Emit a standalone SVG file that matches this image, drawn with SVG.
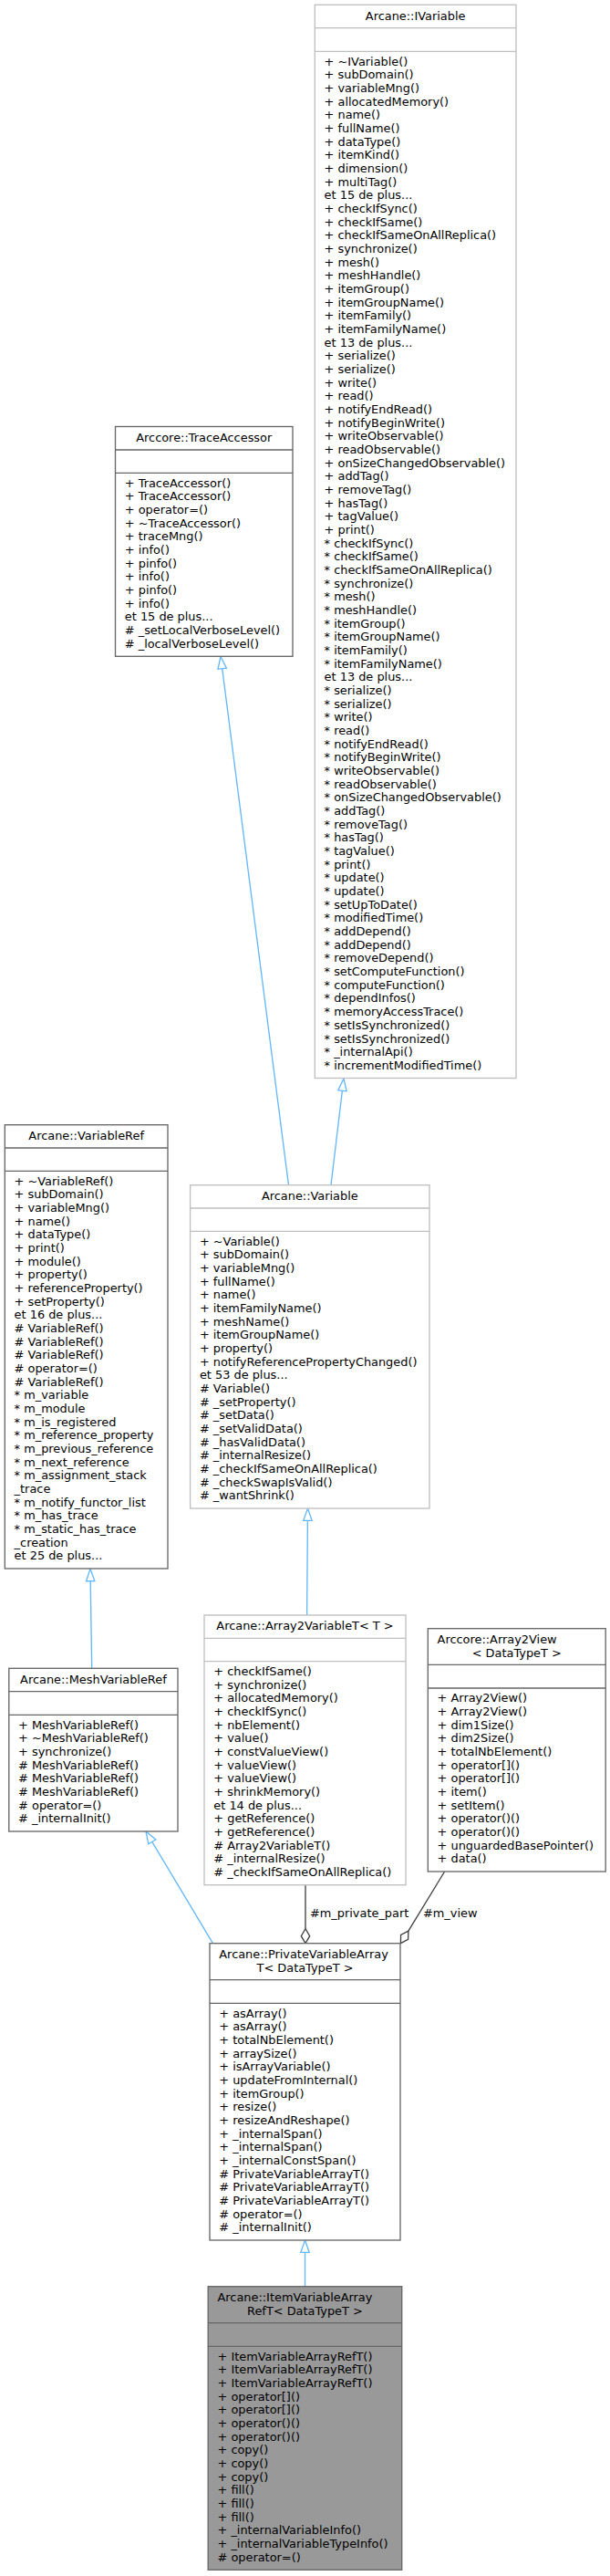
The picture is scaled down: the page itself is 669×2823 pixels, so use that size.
<svg xmlns="http://www.w3.org/2000/svg" width="669" height="2823" viewBox="0 0 669 2823">
<style>
.lt{fill:#ffffff;stroke:#bfbfbf;stroke-width:1.33}
.dk{fill:#ffffff;stroke:#666666;stroke-width:1.33}
.cur{fill:#999999;stroke:#666666;stroke-width:1.33}
.sl{stroke:#bfbfbf;stroke-width:1.33}
.sd{stroke:#666666;stroke-width:1.33}
.t{font-family:"DejaVu Sans","Liberation Sans",sans-serif;font-size:12.9px;fill:#000000}
.c{text-anchor:middle}
.inh{stroke:#63b8ff;fill:none;stroke-width:1.33}
.inhh{stroke:#63b8ff;fill:#ffffff;stroke-width:1.33}
.col{stroke:#404040;fill:none;stroke-width:1.33}
.colh{stroke:#404040;fill:#ffffff;stroke-width:1.33}
</style>
<rect x="0" y="0" width="669" height="2823" fill="#ffffff"/>

<g id="connectors">
  <!-- Variable -> IVariable -->
  <line class="inh" x1="363" y1="1298.7" x2="375.4" y2="1195.2"/>
  <polygon class="inhh" points="377,1182 380.1,1195.8 370.8,1194.6"/>
  <!-- Variable -> TraceAccessor -->
  <line class="inh" x1="316.5" y1="1298.7" x2="243.7" y2="732.7"/>
  <polygon class="inhh" points="242,719.5 248.4,732.1 239,733.3"/>
  <!-- MeshVariableRef -> VariableRef -->
  <line class="inh" x1="100.7" y1="1828.3" x2="99.2" y2="1732.6"/>
  <polygon class="inhh" points="99,1719.3 103.9,1732.5 94.5,1732.7"/>
  <!-- Array2VariableT -> Variable -->
  <line class="inh" x1="336.6" y1="1770" x2="337.4" y2="1666.3"/>
  <polygon class="inhh" points="337.5,1653 342.1,1666.3 332.7,1666.3"/>
  <!-- PrivateVariableArrayT -> MeshVariableRef -->
  <line class="inh" x1="233.4" y1="2129.7" x2="166.8" y2="2018.4"/>
  <polygon class="inhh" points="160,2007 170.9,2016 162.8,2020.8"/>
  <!-- ItemVariableArrayRefT -> PrivateVariableArrayT -->
  <line class="inh" x1="334.5" y1="2505.7" x2="334.5" y2="2468.3"/>
  <polygon class="inhh" points="334.5,2455 339.2,2468.3 329.8,2468.3"/>
  <!-- m_private_part -->
  <line class="col" x1="335" y1="2065.7" x2="335" y2="2113.7"/>
  <polygon class="colh" points="335,2129.7 339.7,2121.7 335,2113.7 330.3,2121.7"/>
  <text class="t" x="340" y="2100.6">#m_private_part</text>
  <!-- m_view -->
  <line class="col" x1="487.6" y1="2051" x2="447.9" y2="2116.1"/>
  <polygon class="colh" points="439.4,2129.7 447.6,2125.4 447.9,2116.1 439.6,2120.4"/>
  <text class="t" x="464" y="2100.6">#m_view</text>
</g>

<g id="IVariable">
  <rect class="lt" x="345.3" y="5.3" width="220.7" height="1176.2"/>
  <line class="sl" x1="345.3" y1="30.7" x2="566" y2="30.7"/>
  <line class="sl" x1="345.3" y1="56.3" x2="566" y2="56.3"/>
  <text class="t c" x="455.65" y="21.6">Arcane::IVariable</text>
  <text class="t" x="355.6" y="71.6"><tspan x="355.6">+ ~IVariable()</tspan><tspan x="355.6" dy="14.67">+ subDomain()</tspan><tspan x="355.6" dy="14.67">+ variableMng()</tspan><tspan x="355.6" dy="14.67">+ allocatedMemory()</tspan><tspan x="355.6" dy="14.67">+ name()</tspan><tspan x="355.6" dy="14.67">+ fullName()</tspan><tspan x="355.6" dy="14.67">+ dataType()</tspan><tspan x="355.6" dy="14.67">+ itemKind()</tspan><tspan x="355.6" dy="14.67">+ dimension()</tspan><tspan x="355.6" dy="14.67">+ multiTag()</tspan><tspan x="355.6" dy="14.67">et 15 de plus...</tspan><tspan x="355.6" dy="14.67">+ checkIfSync()</tspan><tspan x="355.6" dy="14.67">+ checkIfSame()</tspan><tspan x="355.6" dy="14.67">+ checkIfSameOnAllReplica()</tspan><tspan x="355.6" dy="14.67">+ synchronize()</tspan><tspan x="355.6" dy="14.67">+ mesh()</tspan><tspan x="355.6" dy="14.67">+ meshHandle()</tspan><tspan x="355.6" dy="14.67">+ itemGroup()</tspan><tspan x="355.6" dy="14.67">+ itemGroupName()</tspan><tspan x="355.6" dy="14.67">+ itemFamily()</tspan><tspan x="355.6" dy="14.67">+ itemFamilyName()</tspan><tspan x="355.6" dy="14.67">et 13 de plus...</tspan><tspan x="355.6" dy="14.67">+ serialize()</tspan><tspan x="355.6" dy="14.67">+ serialize()</tspan><tspan x="355.6" dy="14.67">+ write()</tspan><tspan x="355.6" dy="14.67">+ read()</tspan><tspan x="355.6" dy="14.67">+ notifyEndRead()</tspan><tspan x="355.6" dy="14.67">+ notifyBeginWrite()</tspan><tspan x="355.6" dy="14.67">+ writeObservable()</tspan><tspan x="355.6" dy="14.67">+ readObservable()</tspan><tspan x="355.6" dy="14.67">+ onSizeChangedObservable()</tspan><tspan x="355.6" dy="14.67">+ addTag()</tspan><tspan x="355.6" dy="14.67">+ removeTag()</tspan><tspan x="355.6" dy="14.67">+ hasTag()</tspan><tspan x="355.6" dy="14.67">+ tagValue()</tspan><tspan x="355.6" dy="14.67">+ print()</tspan><tspan x="355.6" dy="14.67">* checkIfSync()</tspan><tspan x="355.6" dy="14.67">* checkIfSame()</tspan><tspan x="355.6" dy="14.67">* checkIfSameOnAllReplica()</tspan><tspan x="355.6" dy="14.67">* synchronize()</tspan><tspan x="355.6" dy="14.67">* mesh()</tspan><tspan x="355.6" dy="14.67">* meshHandle()</tspan><tspan x="355.6" dy="14.67">* itemGroup()</tspan><tspan x="355.6" dy="14.67">* itemGroupName()</tspan><tspan x="355.6" dy="14.67">* itemFamily()</tspan><tspan x="355.6" dy="14.67">* itemFamilyName()</tspan><tspan x="355.6" dy="14.67">et 13 de plus...</tspan><tspan x="355.6" dy="14.67">* serialize()</tspan><tspan x="355.6" dy="14.67">* serialize()</tspan><tspan x="355.6" dy="14.67">* write()</tspan><tspan x="355.6" dy="14.67">* read()</tspan><tspan x="355.6" dy="14.67">* notifyEndRead()</tspan><tspan x="355.6" dy="14.67">* notifyBeginWrite()</tspan><tspan x="355.6" dy="14.67">* writeObservable()</tspan><tspan x="355.6" dy="14.67">* readObservable()</tspan><tspan x="355.6" dy="14.67">* onSizeChangedObservable()</tspan><tspan x="355.6" dy="14.67">* addTag()</tspan><tspan x="355.6" dy="14.67">* removeTag()</tspan><tspan x="355.6" dy="14.67">* hasTag()</tspan><tspan x="355.6" dy="14.67">* tagValue()</tspan><tspan x="355.6" dy="14.67">* print()</tspan><tspan x="355.6" dy="14.67">* update()</tspan><tspan x="355.6" dy="14.67">* update()</tspan><tspan x="355.6" dy="14.67">* setUpToDate()</tspan><tspan x="355.6" dy="14.67">* modifiedTime()</tspan><tspan x="355.6" dy="14.67">* addDepend()</tspan><tspan x="355.6" dy="14.67">* addDepend()</tspan><tspan x="355.6" dy="14.67">* removeDepend()</tspan><tspan x="355.6" dy="14.67">* setComputeFunction()</tspan><tspan x="355.6" dy="14.67">* computeFunction()</tspan><tspan x="355.6" dy="14.67">* dependInfos()</tspan><tspan x="355.6" dy="14.67">* memoryAccessTrace()</tspan><tspan x="355.6" dy="14.67">* setIsSynchronized()</tspan><tspan x="355.6" dy="14.67">* setIsSynchronized()</tspan><tspan x="355.6" dy="14.67">* _internalApi()</tspan><tspan x="355.6" dy="14.67">* incrementModifiedTime()</tspan></text>
</g>

<g id="TraceAccessor">
  <rect class="dk" x="126.5" y="467.5" width="194.5" height="251.8"/>
  <line class="sd" x1="126.5" y1="493" x2="321" y2="493"/>
  <line class="sd" x1="126.5" y1="518.3" x2="321" y2="518.3"/>
  <text class="t c" x="223.75" y="483.8">Arccore::TraceAccessor</text>
  <text class="t" x="136.8" y="533.6"><tspan x="136.8">+ TraceAccessor()</tspan><tspan x="136.8" dy="14.67">+ TraceAccessor()</tspan><tspan x="136.8" dy="14.67">+ operator=()</tspan><tspan x="136.8" dy="14.67">+ ~TraceAccessor()</tspan><tspan x="136.8" dy="14.67">+ traceMng()</tspan><tspan x="136.8" dy="14.67">+ info()</tspan><tspan x="136.8" dy="14.67">+ pinfo()</tspan><tspan x="136.8" dy="14.67">+ info()</tspan><tspan x="136.8" dy="14.67">+ pinfo()</tspan><tspan x="136.8" dy="14.67">+ info()</tspan><tspan x="136.8" dy="14.67">et 15 de plus...</tspan><tspan x="136.8" dy="14.67"># _setLocalVerboseLevel()</tspan><tspan x="136.8" dy="14.67"># _localVerboseLevel()</tspan></text>
</g>

<g id="VariableRef">
  <rect class="dk" x="5.3" y="1232.7" width="178.7" height="486.3"/>
  <line class="sd" x1="5.3" y1="1258" x2="184" y2="1258"/>
  <line class="sd" x1="5.3" y1="1283.3" x2="184" y2="1283.3"/>
  <text class="t c" x="94.65" y="1249">Arcane::VariableRef</text>
  <text class="t" x="15.6" y="1298.6"><tspan x="15.6">+ ~VariableRef()</tspan><tspan x="15.6" dy="14.67">+ subDomain()</tspan><tspan x="15.6" dy="14.67">+ variableMng()</tspan><tspan x="15.6" dy="14.67">+ name()</tspan><tspan x="15.6" dy="14.67">+ dataType()</tspan><tspan x="15.6" dy="14.67">+ print()</tspan><tspan x="15.6" dy="14.67">+ module()</tspan><tspan x="15.6" dy="14.67">+ property()</tspan><tspan x="15.6" dy="14.67">+ referenceProperty()</tspan><tspan x="15.6" dy="14.67">+ setProperty()</tspan><tspan x="15.6" dy="14.67">et 16 de plus...</tspan><tspan x="15.6" dy="14.67"># VariableRef()</tspan><tspan x="15.6" dy="14.67"># VariableRef()</tspan><tspan x="15.6" dy="14.67"># VariableRef()</tspan><tspan x="15.6" dy="14.67"># operator=()</tspan><tspan x="15.6" dy="14.67"># VariableRef()</tspan><tspan x="15.6" dy="14.67">* m_variable</tspan><tspan x="15.6" dy="14.67">* m_module</tspan><tspan x="15.6" dy="14.67">* m_is_registered</tspan><tspan x="15.6" dy="14.67">* m_reference_property</tspan><tspan x="15.6" dy="14.67">* m_previous_reference</tspan><tspan x="15.6" dy="14.67">* m_next_reference</tspan><tspan x="15.6" dy="14.67">* m_assignment_stack</tspan><tspan x="15.6" dy="14.67">_trace</tspan><tspan x="15.6" dy="14.67">* m_notify_functor_list</tspan><tspan x="15.6" dy="14.67">* m_has_trace</tspan><tspan x="15.6" dy="14.67">* m_static_has_trace</tspan><tspan x="15.6" dy="14.67">_creation</tspan><tspan x="15.6" dy="14.67">et 25 de plus...</tspan></text>
</g>

<g id="Variable">
  <rect class="lt" x="208.6" y="1298.7" width="262.4" height="354.3"/>
  <line class="sl" x1="208.6" y1="1324" x2="471" y2="1324"/>
  <line class="sl" x1="208.6" y1="1349.3" x2="471" y2="1349.3"/>
  <text class="t c" x="339.8" y="1315">Arcane::Variable</text>
  <text class="t" x="218.9" y="1364.6"><tspan x="218.9">+ ~Variable()</tspan><tspan x="218.9" dy="14.67">+ subDomain()</tspan><tspan x="218.9" dy="14.67">+ variableMng()</tspan><tspan x="218.9" dy="14.67">+ fullName()</tspan><tspan x="218.9" dy="14.67">+ name()</tspan><tspan x="218.9" dy="14.67">+ itemFamilyName()</tspan><tspan x="218.9" dy="14.67">+ meshName()</tspan><tspan x="218.9" dy="14.67">+ itemGroupName()</tspan><tspan x="218.9" dy="14.67">+ property()</tspan><tspan x="218.9" dy="14.67">+ notifyReferencePropertyChanged()</tspan><tspan x="218.9" dy="14.67">et 53 de plus...</tspan><tspan x="218.9" dy="14.67"># Variable()</tspan><tspan x="218.9" dy="14.67"># _setProperty()</tspan><tspan x="218.9" dy="14.67"># _setData()</tspan><tspan x="218.9" dy="14.67"># _setValidData()</tspan><tspan x="218.9" dy="14.67"># _hasValidData()</tspan><tspan x="218.9" dy="14.67"># _internalResize()</tspan><tspan x="218.9" dy="14.67"># _checkIfSameOnAllReplica()</tspan><tspan x="218.9" dy="14.67"># _checkSwapIsValid()</tspan><tspan x="218.9" dy="14.67"># _wantShrink()</tspan></text>
</g>

<g id="Array2VariableT">
  <rect class="lt" x="224" y="1770" width="221" height="295.7"/>
  <line class="sl" x1="224" y1="1795.3" x2="445" y2="1795.3"/>
  <line class="sl" x1="224" y1="1820.7" x2="445" y2="1820.7"/>
  <text class="t c" x="334.5" y="1786.3">Arcane::Array2VariableT&lt; T &gt;</text>
  <text class="t" x="234.3" y="1836"><tspan x="234.3">+ checkIfSame()</tspan><tspan x="234.3" dy="14.67">+ synchronize()</tspan><tspan x="234.3" dy="14.67">+ allocatedMemory()</tspan><tspan x="234.3" dy="14.67">+ checkIfSync()</tspan><tspan x="234.3" dy="14.67">+ nbElement()</tspan><tspan x="234.3" dy="14.67">+ value()</tspan><tspan x="234.3" dy="14.67">+ constValueView()</tspan><tspan x="234.3" dy="14.67">+ valueView()</tspan><tspan x="234.3" dy="14.67">+ valueView()</tspan><tspan x="234.3" dy="14.67">+ shrinkMemory()</tspan><tspan x="234.3" dy="14.67">et 14 de plus...</tspan><tspan x="234.3" dy="14.67">+ getReference()</tspan><tspan x="234.3" dy="14.67">+ getReference()</tspan><tspan x="234.3" dy="14.67"># Array2VariableT()</tspan><tspan x="234.3" dy="14.67"># _internalResize()</tspan><tspan x="234.3" dy="14.67"># _checkIfSameOnAllReplica()</tspan></text>
</g>

<g id="Array2View">
  <rect class="dk" x="469.3" y="1784.7" width="194.9" height="266.3"/>
  <line class="sd" x1="469.3" y1="1824.3" x2="664.2" y2="1824.3"/>
  <line class="sd" x1="469.3" y1="1850" x2="664.2" y2="1850"/>
  <text class="t" x="479.6" y="1801.2">Arccore::Array2View</text>
  <text class="t c" x="566.75" y="1815.8">&lt; DataTypeT &gt;</text>
  <text class="t" x="479.6" y="1865.3"><tspan x="479.6">+ Array2View()</tspan><tspan x="479.6" dy="14.67">+ Array2View()</tspan><tspan x="479.6" dy="14.67">+ dim1Size()</tspan><tspan x="479.6" dy="14.67">+ dim2Size()</tspan><tspan x="479.6" dy="14.67">+ totalNbElement()</tspan><tspan x="479.6" dy="14.67">+ operator[]()</tspan><tspan x="479.6" dy="14.67">+ operator[]()</tspan><tspan x="479.6" dy="14.67">+ item()</tspan><tspan x="479.6" dy="14.67">+ setItem()</tspan><tspan x="479.6" dy="14.67">+ operator()()</tspan><tspan x="479.6" dy="14.67">+ operator()()</tspan><tspan x="479.6" dy="14.67">+ unguardedBasePointer()</tspan><tspan x="479.6" dy="14.67">+ data()</tspan></text>
</g>

<g id="MeshVariableRef">
  <rect class="dk" x="9.8" y="1828.3" width="185.2" height="178.7"/>
  <line class="sd" x1="9.8" y1="1853.6" x2="195" y2="1853.6"/>
  <line class="sd" x1="9.8" y1="1879.3" x2="195" y2="1879.3"/>
  <text class="t c" x="102.4" y="1844.6">Arcane::MeshVariableRef</text>
  <text class="t" x="20.1" y="1894.6"><tspan x="20.1">+ MeshVariableRef()</tspan><tspan x="20.1" dy="14.67">+ ~MeshVariableRef()</tspan><tspan x="20.1" dy="14.67">+ synchronize()</tspan><tspan x="20.1" dy="14.67"># MeshVariableRef()</tspan><tspan x="20.1" dy="14.67"># MeshVariableRef()</tspan><tspan x="20.1" dy="14.67"># MeshVariableRef()</tspan><tspan x="20.1" dy="14.67"># operator=()</tspan><tspan x="20.1" dy="14.67"># _internalInit()</tspan></text>
</g>

<g id="PrivateVariableArrayT">
  <rect class="dk" x="230" y="2129.7" width="209" height="325.3"/>
  <line class="sd" x1="230" y1="2169.7" x2="439" y2="2169.7"/>
  <line class="sd" x1="230" y1="2195.3" x2="439" y2="2195.3"/>
  <text class="t" x="240.3" y="2146.2">Arcane::PrivateVariableArray</text>
  <text class="t c" x="334.5" y="2160.8">T&lt; DataTypeT &gt;</text>
  <text class="t" x="240.3" y="2210.6"><tspan x="240.3">+ asArray()</tspan><tspan x="240.3" dy="14.67">+ asArray()</tspan><tspan x="240.3" dy="14.67">+ totalNbElement()</tspan><tspan x="240.3" dy="14.67">+ arraySize()</tspan><tspan x="240.3" dy="14.67">+ isArrayVariable()</tspan><tspan x="240.3" dy="14.67">+ updateFromInternal()</tspan><tspan x="240.3" dy="14.67">+ itemGroup()</tspan><tspan x="240.3" dy="14.67">+ resize()</tspan><tspan x="240.3" dy="14.67">+ resizeAndReshape()</tspan><tspan x="240.3" dy="14.67">+ _internalSpan()</tspan><tspan x="240.3" dy="14.67">+ _internalSpan()</tspan><tspan x="240.3" dy="14.67">+ _internalConstSpan()</tspan><tspan x="240.3" dy="14.67"># PrivateVariableArrayT()</tspan><tspan x="240.3" dy="14.67"># PrivateVariableArrayT()</tspan><tspan x="240.3" dy="14.67"># PrivateVariableArrayT()</tspan><tspan x="240.3" dy="14.67"># operator=()</tspan><tspan x="240.3" dy="14.67"># _internalInit()</tspan></text>
</g>

<g id="ItemVariableArrayRefT">
  <rect class="cur" x="228.2" y="2505.7" width="212.5" height="310.6"/>
  <line class="sd" x1="228.2" y1="2545.7" x2="440.7" y2="2545.7"/>
  <line class="sd" x1="228.2" y1="2571.3" x2="440.7" y2="2571.3"/>
  <text class="t" x="238.5" y="2522.2">Arcane::ItemVariableArray</text>
  <text class="t c" x="334.45" y="2536.8">RefT&lt; DataTypeT &gt;</text>
  <text class="t" x="238.5" y="2586.6"><tspan x="238.5">+ ItemVariableArrayRefT()</tspan><tspan x="238.5" dy="14.67">+ ItemVariableArrayRefT()</tspan><tspan x="238.5" dy="14.67">+ ItemVariableArrayRefT()</tspan><tspan x="238.5" dy="14.67">+ operator[]()</tspan><tspan x="238.5" dy="14.67">+ operator[]()</tspan><tspan x="238.5" dy="14.67">+ operator()()</tspan><tspan x="238.5" dy="14.67">+ operator()()</tspan><tspan x="238.5" dy="14.67">+ copy()</tspan><tspan x="238.5" dy="14.67">+ copy()</tspan><tspan x="238.5" dy="14.67">+ copy()</tspan><tspan x="238.5" dy="14.67">+ fill()</tspan><tspan x="238.5" dy="14.67">+ fill()</tspan><tspan x="238.5" dy="14.67">+ fill()</tspan><tspan x="238.5" dy="14.67">+ _internalVariableInfo()</tspan><tspan x="238.5" dy="14.67">+ _internalVariableTypeInfo()</tspan><tspan x="238.5" dy="14.67"># operator=()</tspan></text>
</g>
</svg>
